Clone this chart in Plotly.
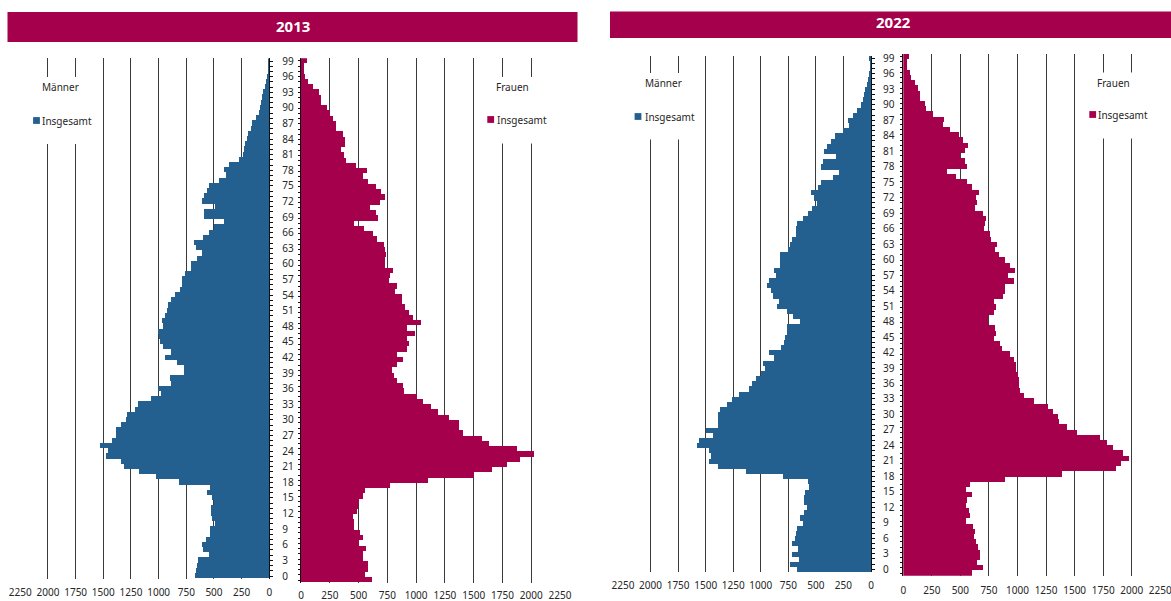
import plotly.graph_objects as go

W, H = 1171, 601

ages = list(range(100))
age_ticks = list(range(0, 100, 3))
x_ticks = list(range(0, 2251, 250))

men_2013 = [672, 663, 648, 639, 545, 599, 602, 572, 530, 530,
            484, 515, 527, 524, 500, 515, 560, 533, 817, 1023,
            1174, 1314, 1335, 1477, 1456, 1529, 1417, 1386, 1386, 1335,
            1296, 1280, 1214, 1181, 1065, 975, 1001, 886, 899, 768,
            768, 829, 942, 883, 960, 983, 995, 1003, 960, 967,
            940, 920, 916, 890, 850, 800, 790, 785, 760, 702,
            702, 651, 607, 662, 679, 600, 542, 498, 403, 584,
            587, 489, 605, 584, 563, 539, 448, 388, 403, 357,
            270, 236, 227, 218, 200, 188, 160, 151, 115, 94,
            82, 70, 60, 51, 36, 24, 15, 9, 5, 4]

women_2013 = [620, 560, 578, 586, 537, 537, 565, 502, 537, 515,
              463, 463, 453, 483, 496, 500, 537, 560, 777, 1107,
              1500, 1656, 1786, 1900, 2020, 1877, 1631, 1575, 1405, 1372,
              1372, 1284, 1190, 1129, 1056, 1007, 893, 883, 834, 804,
              788, 834, 883, 834, 919, 935, 919, 991, 919, 1040,
              975, 942, 903, 876, 875, 820, 831, 768, 773, 802,
              733, 733, 739, 733, 722, 662, 622, 544, 458, 670,
              655, 598, 683, 726, 692, 655, 582, 542, 574, 482,
              390, 370, 351, 386, 380, 365, 308, 302, 274, 248,
              223, 172, 178, 155, 100, 60, 35, 25, 25, 55]

men_2022 = [668, 737, 656, 719, 665, 713, 692, 680, 668, 617,
            640, 604, 577, 604, 604, 598, 564, 570, 800, 1138,
            1388, 1470, 1452, 1468, 1582, 1558, 1438, 1495, 1390, 1388,
            1385, 1369, 1310, 1262, 1194, 1106, 1079, 1043, 1001, 964,
            976, 880, 928, 819, 792, 777, 759, 760, 642, 712,
            766, 849, 831, 892, 910, 943, 922, 862, 881, 830,
            830, 823, 757, 737, 713, 684, 677, 670, 621, 575,
            537, 487, 515, 545, 478, 455, 343, 290, 457, 431,
            317, 425, 399, 366, 330, 257, 196, 209, 160, 127,
            91, 70, 63, 54, 39, 27, 12, 6, 6, 15]

women_2022 = [602, 700, 648, 671, 671, 653, 642, 618, 630, 613,
              548, 583, 578, 554, 563, 607, 548, 589, 890, 1390,
              1866, 1910, 1982, 1928, 1839, 1786, 1722, 1520, 1433, 1368,
              1359, 1310, 1271, 1148, 1059, 1020, 1013, 1015, 1010, 988,
              990, 972, 939, 867, 852, 795, 810, 804, 742, 748,
              793, 816, 796, 875, 890, 890, 968, 915, 977, 939,
              893, 840, 802, 823, 773, 758, 706, 714, 724, 700,
              630, 652, 638, 661, 608, 560, 462, 388, 560, 546,
              502, 543, 566, 529, 488, 409, 352, 355, 265, 198,
              191, 145, 152, 129, 103, 74, 60, 32, 32, 51]

BLUE = "#24608F"
RED = "#A5004B"
GRID = "#3a3a3a"
TXT = "#262626"
FONT = "Noto Sans, Open Sans, DejaVu Sans, sans-serif"


def fx(x):
    return x / W


def fy(y):
    return 1 - y / H


age_text = [str(a) for a in age_ticks]

fig = go.Figure()

series = [
    (men_2013, BLUE, "x", "y", "Männer 2013"),
    (women_2013, RED, "x2", "y2", "Frauen 2013"),
    (men_2022, BLUE, "x3", "y3", "Männer 2022"),
    (women_2022, RED, "x4", "y4", "Frauen 2022"),
]
for vals, col, xa, ya, nm in series:
    fig.add_trace(go.Bar(
        x=vals, y=ages, orientation="h", marker=dict(color=col, line=dict(width=0)),
        width=1, xaxis=xa, yaxis=ya, name=nm, showlegend=False,
        hovertemplate="Alter %{y}: %{x}<extra>" + nm + "</extra>"))


def xaxis(dom, anchor, reverse, standoff):
    return dict(domain=[fx(dom[0]), fx(dom[1])], anchor=anchor,
                range=[2250, 0] if reverse else [0, 2250],
                tickmode="array", tickvals=x_ticks,
                showgrid=True, gridcolor=GRID, gridwidth=1,
                zeroline=False, showline=False, ticks="",
                tickfont=dict(size=10, color=TXT, family=FONT),
                ticklabelstandoff=standoff, ticklabeloverflow="allow",
                automargin=False, fixedrange=True)


def men_yaxis(top, bottom, anchor, standoff):
    return dict(domain=[fy(bottom), fy(top)], anchor=anchor, side="right",
                range=[-0.5, 99.5], tickmode="array", tickvals=age_ticks,
                ticktext=age_text, ticks="outside", ticklen=3, tickwidth=1,
                tickcolor="#111", showline=True, linecolor="#111", linewidth=1,
                showgrid=False, zeroline=False,
                minor=dict(tickmode="array", tickvals=ages, ticks="outside",
                           ticklen=3, tickwidth=1, tickcolor="#111", showgrid=False),
                tickfont=dict(size=10, color=TXT, family=FONT),
                ticklabelstandoff=standoff, automargin=False, fixedrange=True)


def women_yaxis(top, bottom, anchor):
    return dict(domain=[fy(bottom), fy(top)], anchor=anchor, side="left",
                range=[-0.5, 99.5], tickmode="array", tickvals=ages,
                showticklabels=False, ticks="outside", ticklen=2, tickwidth=1,
                tickcolor="#111", showline=True, linecolor="#111", linewidth=1,
                showgrid=False, zeroline=False, automargin=False, fixedrange=True)


fig.update_layout(
    template="none",
    width=W, height=H, autosize=False,
    margin=dict(l=0, r=0, t=0, b=0, pad=0, autoexpand=False),
    paper_bgcolor="white", plot_bgcolor="white",
    bargap=0, barmode="overlay", showlegend=False,
    font=dict(family=FONT, size=10, color=TXT),
    xaxis=xaxis((20.3, 269.3), "y", True, 6),
    yaxis=men_yaxis(58.4, 578.6, "x", 7),
    xaxis2=xaxis((301, 560), "y2", False, 5),
    yaxis2=women_yaxis(58.3, 582.7, "x2"),
    xaxis3=xaxis((623, 871), "y3", True, 6),
    yaxis3=men_yaxis(55.7, 571.9, "x3", 6),
    xaxis4=xaxis((903.3, 1160.3), "y4", False, 7),
    yaxis4=women_yaxis(54.1, 575.8, "x4"),
)

shapes = []
annotations = []

# title bars
for (x0, x1, y0, y1, ty, tx, label) in [
    (7.5, 577.5, 12, 42, 26.5, 292.5, "2013"),
    (610, 1171, 11.5, 38, 22, 893.5, "2022"),
]:
    shapes.append(dict(type="rect", xref="paper", yref="paper",
                       x0=fx(x0), x1=fx(x1), y0=fy(y1), y1=fy(y0),
                       fillcolor=RED, line=dict(width=0), layer="above"))
    annotations.append(dict(xref="paper", yref="paper", x=fx(tx), y=fy(ty),
                            text="<b>" + label + "</b>", showarrow=False,
                            xanchor="center", yanchor="middle",
                            font=dict(size=15, color="white", family=FONT)))

# legend blocks (mask, heading, swatch, item label)
legend_blocks = [
    (24, 99, 77, 144, "Männer", 60.5, 87, 36.5, 120.5, 41.5, BLUE),
    (478, 556, 77, 143.5, "Frauen", 512.5, 87, 490.7, 119.5, 496.7, RED),
    (627, 703, 73, 139.5, "Männer", 663.5, 83, 638, 116.5, 644.5, BLUE),
    (1078, 1157, 72.5, 138.5, "Frauen", 1113.3, 82.7, 1092.7, 114.5, 1098.3, RED),
]
for (mx0, mx1, my0, my1, head, hx, hy, sx, sy, lx, col) in legend_blocks:
    shapes.append(dict(type="rect", xref="paper", yref="paper",
                       x0=fx(mx0), x1=fx(mx1), y0=fy(my1), y1=fy(my0),
                       fillcolor="white", line=dict(width=0), layer="above"))
    shapes.append(dict(type="rect", xref="paper", yref="paper",
                       x0=fx(sx - 3.4), x1=fx(sx + 3.4), y0=fy(sy + 3.4), y1=fy(sy - 3.4),
                       fillcolor=col, line=dict(width=0), layer="above"))
    annotations.append(dict(xref="paper", yref="paper", x=fx(hx), y=fy(hy),
                            text=head, showarrow=False, xanchor="center",
                            yanchor="middle", font=dict(size=10, color=TXT, family=FONT)))
    annotations.append(dict(xref="paper", yref="paper", x=fx(lx), y=fy(sy),
                            text="Insgesamt", showarrow=False, xanchor="left",
                            yanchor="middle", xshift=-2,
                            font=dict(size=10, color=TXT, family=FONT)))

fig.update_layout(shapes=shapes, annotations=annotations)

fig.write_html(
    "out.html", include_plotlyjs=True, config={"displayModeBar": False},
    post_script="document.body.style.margin='0';document.body.style.padding='0';"
                "document.body.style.overflow='hidden';")
